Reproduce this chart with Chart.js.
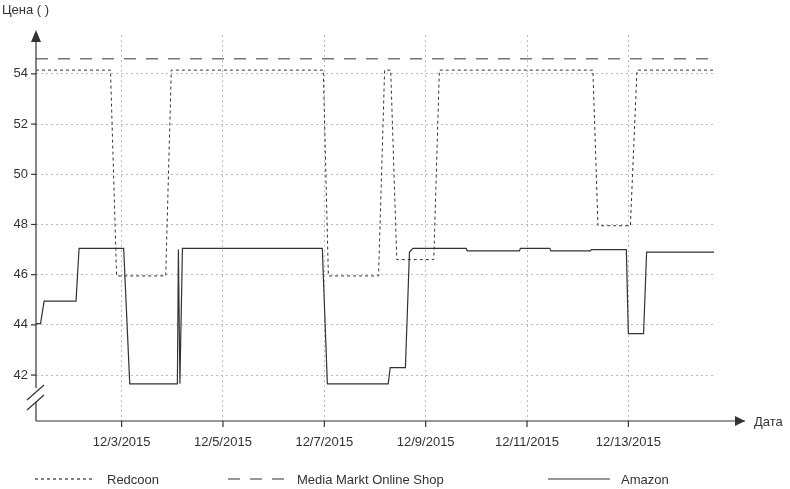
<!DOCTYPE html>
<html><head><meta charset="utf-8">
<script src="https://cdn.jsdelivr.net/npm/chart.js@4"></script>
<style>body{margin:0;background:#fff}#w{width:790px;height:489px}</style>
</head><body><div id="w"><canvas id="c"></canvas></div>
<script>
// x = days since 12/1/2015 00:00
const redcoonX = [0.31,1.78,1.9,2.87,2.98,5.98,6.08,7.07,7.19,7.31,7.43,8.16,8.27,11.3,11.4,12.04,12.17,13.69];
const redcoonY = [54.15,54.15,45.95,45.95,54.15,54.15,45.95,45.95,54.15,54.15,46.6,46.6,54.15,54.15,47.95,47.95,54.15,54.15];
const mediaX = [0.31,13.69];
const mediaY = [54.6,54.6];
const amazonX = [0.31,0.4,0.47,1.1,1.16,2.04,2.16,3.1,3.12,3.15,3.2,5.96,6.06,7.26,7.3,7.6,7.68,7.75,8.8,8.82,9.85,9.87,10.45,10.47,11.25,11.27,11.96,12.0,12.3,12.36,13.69];
const amazonY = [44.05,44.05,44.95,44.95,47.05,47.05,41.65,41.65,47.0,41.65,47.05,47.05,41.65,41.65,42.3,42.3,46.9,47.05,47.05,46.95,46.95,47.05,47.05,46.95,46.95,47.0,47.0,43.65,43.65,46.9,46.9];
const xTicks = [2,4,6,8,10,12];
const xTickLabels = ['12/3/2015','12/5/2015','12/7/2015','12/9/2015','12/11/2015','12/13/2015'];
const yTicks = [42,44,46,48,50,52,54];
const pts = (xs,ys)=>xs.map((x,i)=>({x,y:ys[i]}));
const F = '"Helvetica Neue", "Liberation Sans", Arial, sans-serif';
const deco = {id:'deco', afterDraw(ch){
  const c=ch.ctx, a=ch.chartArea;
  c.save(); c.strokeStyle='#333'; c.fillStyle='#333'; c.lineWidth=1.2;
  c.beginPath(); c.moveTo(a.left,a.bottom); c.lineTo(745,a.bottom); c.stroke();
  c.beginPath(); c.moveTo(a.left,a.bottom); c.lineTo(a.left,38); c.stroke();
  c.beginPath(); c.moveTo(745,a.bottom); c.lineTo(735,a.bottom-5); c.lineTo(735,a.bottom+5); c.closePath(); c.fill();
  c.beginPath(); c.moveTo(a.left,30); c.lineTo(a.left-5,42); c.lineTo(a.left+5,42); c.closePath(); c.fill();
  c.fillStyle='#fff'; c.fillRect(a.left-3,388,6,14);
  c.beginPath(); c.moveTo(a.left-9,400); c.lineTo(a.left+8,385); c.moveTo(a.left-9,410); c.lineTo(a.left+8,395); c.stroke();
  for(const t of xTicks){const x=ch.scales.x.getPixelForValue(t); c.beginPath(); c.moveTo(x,a.bottom); c.lineTo(x,a.bottom+6); c.stroke();}
  for(const t of yTicks){const y=ch.scales.y.getPixelForValue(t); c.beginPath(); c.moveTo(a.left-5,y); c.lineTo(a.left,y); c.stroke();}
  c.fillStyle='#333'; c.font='13px '+F; c.textBaseline='middle';
  c.fillText('Цена ( )',2,10); c.fillText('Дата',754,a.bottom+1);
  const ly=479;
  const items=[[[3,3],35,95,107,'Redcoon'],[[12,10],228,285,297,'Media Markt Online Shop'],[[],548,610,621,'Amazon']];
  for(const [d,x1,x2,tx,t] of items){c.setLineDash(d); c.beginPath(); c.moveTo(x1,ly); c.lineTo(x2,ly); c.stroke(); c.setLineDash([]); c.fillText(t,tx,ly+1);}
  c.restore();
}};
new Chart(document.getElementById('c'),{
  type:'line',
  data:{datasets:[
    {label:'Redcoon',data:pts(redcoonX,redcoonY),borderColor:'#333',borderWidth:1,borderDash:[3,3],pointRadius:0,tension:0},
    {label:'Media Markt Online Shop',data:pts(mediaX,mediaY),borderColor:'#333',borderWidth:1,borderDash:[12,10],pointRadius:0},
    {label:'Amazon',data:pts(amazonX,amazonY),borderColor:'#333',borderWidth:1.2,pointRadius:0}
  ]},
  options:{responsive:true,maintainAspectRatio:false,animation:false,
    layout:{padding:{top:35,right:76,left:0,bottom:0}},
    plugins:{legend:{display:false},tooltip:{enabled:false}},
    scales:{
      x:{type:'linear',min:0.31,max:13.69,border:{display:false,dash:[2,3]},
        afterBuildTicks(s){s.ticks=xTicks.map(v=>({value:v}));},
        afterFit(s){s.height=68;},
        grid:{color:'#bbb',drawTicks:false},
        ticks:{padding:14,color:'#333',font:{size:13,family:F},maxRotation:0,callback:(v)=>xTickLabels[xTicks.indexOf(v)]}},
      y:{min:40.17,max:55.55,border:{display:false,dash:[2,3]},
        afterBuildTicks(s){s.ticks=yTicks.map(v=>({value:v}));},
        afterFit(s){s.width=36;},
        grid:{color:'#bbb',drawTicks:false},
        ticks:{padding:8,color:'#333',font:{size:13,family:F}}}
    }},
  plugins:[deco]
});
</script></body></html>
